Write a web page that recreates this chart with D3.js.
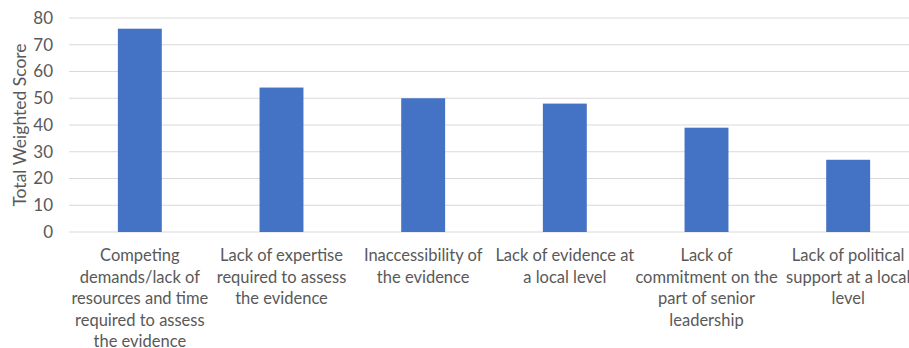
<!DOCTYPE html>
<html>
<head>
<meta charset="utf-8">
<script src="https://cdn.jsdelivr.net/npm/d3@7"></script>
<style>
  html, body { margin: 0; padding: 0; background: #fff; }
  svg { display: block; font-family: Lato, "Open Sans", sans-serif; }
</style>
</head>
<body>
<svg id="chart" width="909" height="348"></svg>
<script>
// Barriers, ranked by total weighted score
const categories = [
  "Competing\ndemands/lack of\nresources and time\nrequired to assess\nthe evidence",
  "Lack of expertise\nrequired to assess\nthe evidence",
  "Inaccessibility of\nthe evidence",
  "Lack of evidence at\na local level",
  "Lack of\ncommitment on the\npart of senior\nleadership",
  "Lack of political\nsupport at a local\nlevel"
];
const scores = [76, 54, 50, 48, 39, 27];
const yTicks = [0, 10, 20, 30, 40, 50, 60, 70, 80];
const yTitle = "Total Weighted Score";

const svg = d3.select("#chart");
const margin = { top: 18, left: 69 };
const plotW = 850, plotH = 214;
const textColor = "#595959";

const g = svg.append("g").attr("transform", `translate(${margin.left},${margin.top})`);

const x = d3.scaleBand().domain(d3.range(categories.length)).range([0, plotW]).paddingInner(0.69).paddingOuter(0.345);
const y = d3.scaleLinear().domain([0, 80]).range([plotH, 0]);

// horizontal gridlines
g.append("g").selectAll("line").data(yTicks).join("line")
  .attr("x1", 0).attr("x2", plotW)
  .attr("y1", d => y(d)).attr("y2", d => y(d))
  .attr("stroke", "#d9d9d9").attr("stroke-width", 1);

// y axis labels
const yAxis = g.append("g").call(d3.axisLeft(y).tickValues(yTicks).tickSize(0).tickPadding(16));
yAxis.select(".domain").remove();
yAxis.selectAll("text").attr("fill", textColor).style("font-size", "17px").style("font-family", "Lato, sans-serif");

// bars
g.append("g").selectAll("rect").data(scores).join("rect")
  .attr("x", (d, i) => x(i))
  .attr("y", d => y(d))
  .attr("width", x.bandwidth())
  .attr("height", d => y(0) - y(d))
  .attr("fill", "#4472c4");

// category labels, one tspan per line
const xAxis = g.append("g").attr("transform", `translate(0,${plotH})`)
  .call(d3.axisBottom(x).tickSize(0).tickFormat(""));
xAxis.select(".domain").remove();
xAxis.selectAll(".tick").each(function(d) {
  const t = d3.select(this).append("text")
    .attr("fill", textColor)
    .attr("text-anchor", "middle")
    .style("font-size", "16.5px")
    .style("font-family", "Lato, sans-serif");
  categories[d].split("\n").forEach((line, k) => {
    t.append("tspan").attr("x", 0).attr("y", 29 + k * 21.5).text(line);
  });
});

// y axis title
svg.append("text")
  .attr("transform", `translate(26,${margin.top + plotH / 2}) rotate(-90)`)
  .attr("text-anchor", "middle")
  .attr("fill", textColor)
  .style("font-size", "17.5px")
  .text(yTitle);
</script>
</body>
</html>
